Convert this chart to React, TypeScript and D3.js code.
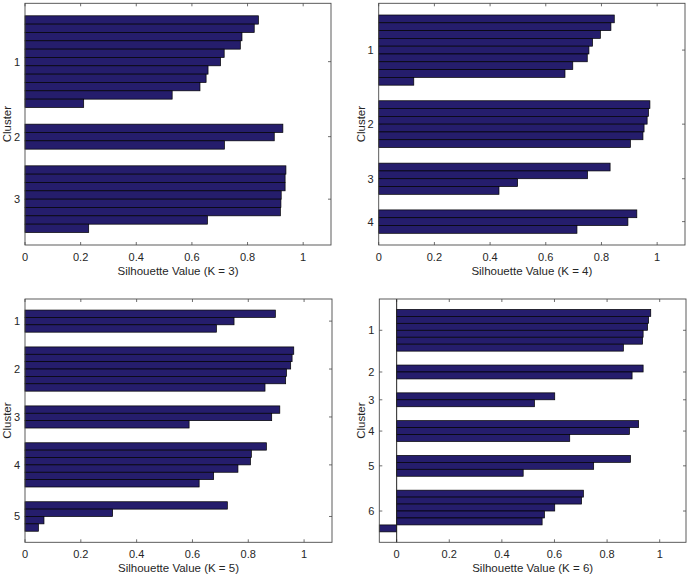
import React from "react";
import * as d3 from "d3";

// Silhouette values per cluster (sorted descending within each cluster)
const silK3: number[][] = [
  [0.839, 0.824, 0.78, 0.774, 0.716, 0.703, 0.658, 0.651, 0.629, 0.529, 0.211],
  [0.927, 0.896, 0.717],
  [0.938, 0.935, 0.935, 0.921, 0.92, 0.918, 0.656, 0.229],
];
const silK4: number[][] = [
  [0.846, 0.834, 0.796, 0.768, 0.755, 0.749, 0.697, 0.669, 0.126],
  [0.974, 0.969, 0.964, 0.953, 0.949, 0.904],
  [0.831, 0.75, 0.499, 0.432],
  [0.927, 0.895, 0.712],
];
const silK5: number[][] = [
  [0.897, 0.749, 0.686],
  [0.963, 0.957, 0.952, 0.937, 0.934, 0.86],
  [0.913, 0.884, 0.588],
  [0.865, 0.811, 0.808, 0.763, 0.676, 0.624],
  [0.725, 0.314, 0.068, 0.048],
];
const silK6: number[][] = [
  [0.966, 0.958, 0.954, 0.937, 0.935, 0.862],
  [0.937, 0.895],
  [0.601, 0.524],
  [0.92, 0.885, 0.658],
  [0.889, 0.749, 0.481],
  [0.71, 0.703, 0.601, 0.562, 0.553, -0.066],
];

const xTickValues = [0, 0.2, 0.4, 0.6, 0.8, 1];
const xTickLabels = ["0", "0.2", "0.4", "0.6", "0.8", "1"];
const kLabels = ["K = 3", "K = 4", "K = 5", "K = 6"];

const FONT = "'Liberation Sans', Arial, Helvetica, sans-serif";
const BAR_FILL = "#251d6c";
const AXIS = "#4a4a4a";
const TEXT = "#262626";

type PanelProps = {
  data: number[][];
  kLabel: string;
  left: number;
  right: number;
  top: number;
  bottom: number;
};

function Panel({ data, kLabel, left, right, top, bottom }: PanelProps) {
  const space = 2;
  const bars: { idx: number; v: number }[] = [];
  const tickPos: number[] = [];
  let pos = space;
  data.forEach((cl) => {
    const start = pos + 1;
    cl.forEach((v, i) => bars.push({ idx: start + i, v }));
    pos += cl.length;
    tickPos.push((start + pos) / 2);
    pos += space;
  });
  const L = pos;
  const allVals = data.flat();
  const xmin = Math.min(0, d3.min(allVals) as number);
  const x = d3.scaleLinear().domain([xmin, 1.1]).range([left, right]);
  const y = d3.scaleLinear().domain([1, L]).range([top, bottom]);
  const tl = 3;
  const midX = (left + right) / 2;
  const midY = (top + bottom) / 2;
  return (
    <g>
      {xTickValues.map((t, i) => (
        <g key={"xt" + i}>
          <line x1={x(t)} x2={x(t)} y1={bottom} y2={bottom - tl} stroke={AXIS} strokeWidth={0.8} />
          <line x1={x(t)} x2={x(t)} y1={top} y2={top + tl} stroke={AXIS} strokeWidth={0.8} />
        </g>
      ))}
      {tickPos.map((t, i) => (
        <g key={"yt" + i}>
          <line x1={left} x2={left + tl} y1={y(t)} y2={y(t)} stroke={AXIS} strokeWidth={0.8} />
          <line x1={right} x2={right - tl} y1={y(t)} y2={y(t)} stroke={AXIS} strokeWidth={0.8} />
        </g>
      ))}
      {bars.map((b, i) => {
        const x0 = x(Math.min(0, b.v));
        const x1 = x(Math.max(0, b.v));
        return (
          <rect
            key={"b" + i}
            x={x0}
            y={y(b.idx - 0.5)}
            width={x1 - x0}
            height={y(b.idx + 0.5) - y(b.idx - 0.5)}
            fill={BAR_FILL}
            stroke="#000"
            strokeWidth={0.7}
          />
        );
      })}
      {xmin < 0 && (
        <line x1={x(0)} x2={x(0)} y1={top} y2={bottom} stroke="#222" strokeWidth={1} />
      )}
      <rect x={left} y={top} width={right - left} height={bottom - top} fill="none" stroke={AXIS} strokeWidth={0.9} />
      {xTickValues.map((t, i) => (
        <text
          key={"xl" + i}
          x={x(t)}
          y={bottom + 15.5}
          textAnchor="middle"
          fontSize={11}
          fontFamily={FONT}
          fill={TEXT}
        >
          {xTickLabels[i]}
        </text>
      ))}
      {tickPos.map((t, i) => (
        <text
          key={"yl" + i}
          x={left - 5}
          y={y(t) + 4}
          textAnchor="end"
          fontSize={11}
          fontFamily={FONT}
          fill={TEXT}
        >
          {String(i + 1)}
        </text>
      ))}
      <text x={midX} y={bottom + 29.5} textAnchor="middle" fontSize={11.5} fontFamily={FONT} fill={TEXT}>
        {`Silhouette Value (${kLabel})`}
      </text>
      <text
        transform={`translate(${left - 14},${midY}) rotate(-90)`}
        textAnchor="middle"
        fontSize={11.5}
        fontFamily={FONT}
        fill={TEXT}
      >
        Cluster
      </text>
    </g>
  );
}

export default function App() {
  return (
    <svg
      width={690}
      height={575}
      style={{ position: "absolute", left: 0, top: 0, background: "#fff" }}
    >
      <rect x={0} y={0} width={690} height={575} fill="#fff" />
      <Panel data={silK3} kLabel={kLabels[0]} left={25} right={331} top={3.3} bottom={245} />
      <Panel data={silK4} kLabel={kLabels[1]} left={378.7} right={685} top={3.3} bottom={245} />
      <Panel data={silK5} kLabel={kLabels[2]} left={25} right={332} top={299} bottom={542.3} />
      <Panel data={silK6} kLabel={kLabels[3]} left={379.3} right={686} top={299} bottom={542.3} />
    </svg>
  );
}
